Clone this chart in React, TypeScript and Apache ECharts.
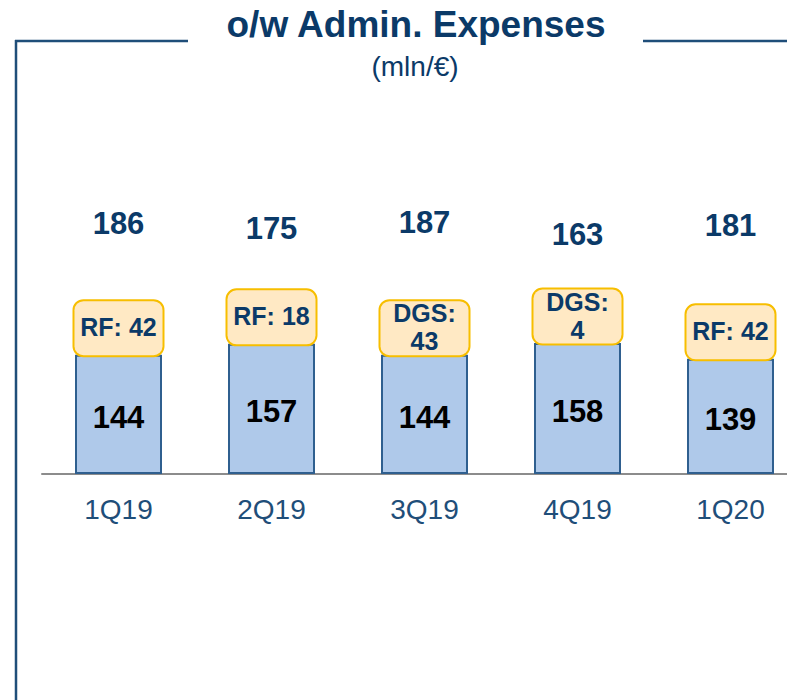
import React, { useEffect, useRef } from "react";
import * as echarts from "echarts";

const categories = ["1Q19", "2Q19", "3Q19", "4Q19", "1Q20"];
const baseValues = [144, 157, 144, 158, 139];
const adjType = ["RF", "RF", "DGS", "DGS", "RF"];
const adjValues = [42, 18, 43, 4, 42];
const totals = [186, 175, 187, 163, 181];

const NAVY = "#0B3A68";
const FONT = "'Liberation Sans', Arial, sans-serif";

export default function App() {
  const ref = useRef<HTMLDivElement>(null);
  useEffect(() => {
    if (!ref.current) return;
    const chart = echarts.init(ref.current, undefined, { renderer: "svg" });
    const adjLabels = adjType.map((t, i) =>
      t === "DGS" ? `${t}:\n${adjValues[i]}` : `${t}: ${adjValues[i]}`
    );
    chart.setOption({
      animation: false,
      textStyle: { fontFamily: FONT },
      grid: { left: 42, right: 0, top: 101, bottom: 226 },
      xAxis: {
        type: "category",
        data: categories,
        axisTick: { show: false },
        axisLine: { lineStyle: { color: "#8C8C8C", width: 2 } },
        axisLabel: { color: "#1F4E79", fontSize: 28, margin: 21, fontFamily: FONT },
      },
      yAxis: [
        { type: "value", min: 0, max: 450, show: false },
        { type: "value", min: -305, max: 425, show: false },
      ],
      graphic: [
        { type: "line", shape: { x1: 15, y1: 41, x2: 188, y2: 41 }, style: { stroke: "#1F4E79", lineWidth: 2.5 } },
        { type: "line", shape: { x1: 643, y1: 41, x2: 820, y2: 41 }, style: { stroke: "#1F4E79", lineWidth: 2.5 } },
        { type: "line", shape: { x1: 16, y1: 40, x2: 16, y2: 710 }, style: { stroke: "#1F4E79", lineWidth: 2.5 } },
        {
          type: "text",
          x: 416,
          y: 24,
          style: {
            text: "o/w Admin. Expenses",
            fill: NAVY,
            font: `bold 37px ${FONT}`,
            align: "center",
            verticalAlign: "middle",
          },
        },
        {
          type: "text",
          x: 415,
          y: 66,
          style: {
            text: "(mln/€)",
            fill: NAVY,
            font: `28px ${FONT}`,
            align: "center",
            verticalAlign: "middle",
          },
        },
      ],
      series: [
        {
          type: "bar",
          data: baseValues,
          barWidth: 87,
          itemStyle: { color: "#AFC9EA", borderColor: "#2F5F8F", borderWidth: 2 },
          label: {
            show: true,
            position: "inside",
            color: "#000",
            fontWeight: "bold",
            fontSize: 31,
            fontFamily: FONT,
            offset: [0, 3],
          },
        },
        {
          type: "scatter",
          data: baseValues.map((v, i) => ({
            value: v,
            label: { lineHeight: adjLabels[i].includes("\n") ? 28 : 56 },
          })),
          symbolSize: 1,
          itemStyle: { color: "transparent", opacity: 1 },
          z: 4,
          label: {
            show: true,
            position: "top",
            distance: -1,
            formatter: (p: any) => adjLabels[p.dataIndex],
            backgroundColor: "#FFE9C4",
            borderColor: "#F7BE00",
            borderWidth: 2,
            borderRadius: 9,
            width: 88,
            height: 54,
            align: "center",
            color: NAVY,
            fontWeight: "bold",
            fontSize: 25,
            fontFamily: FONT,
          },
        },
        {
          type: "scatter",
          yAxisIndex: 1,
          data: totals,
          symbolSize: 1,
          itemStyle: { color: "transparent", opacity: 1 },
          label: {
            show: true,
            position: "inside",
            color: NAVY,
            fontWeight: "bold",
            fontSize: 31,
            fontFamily: FONT,
          },
        },
      ],
    });
    return () => chart.dispose();
  }, []);
  return (
    <div
      style={{ position: "absolute", left: 0, top: 0, width: 787, height: 700, overflow: "hidden" }}
    >
      <div ref={ref} style={{ width: 807, height: 700 }} />
    </div>
  );
}
